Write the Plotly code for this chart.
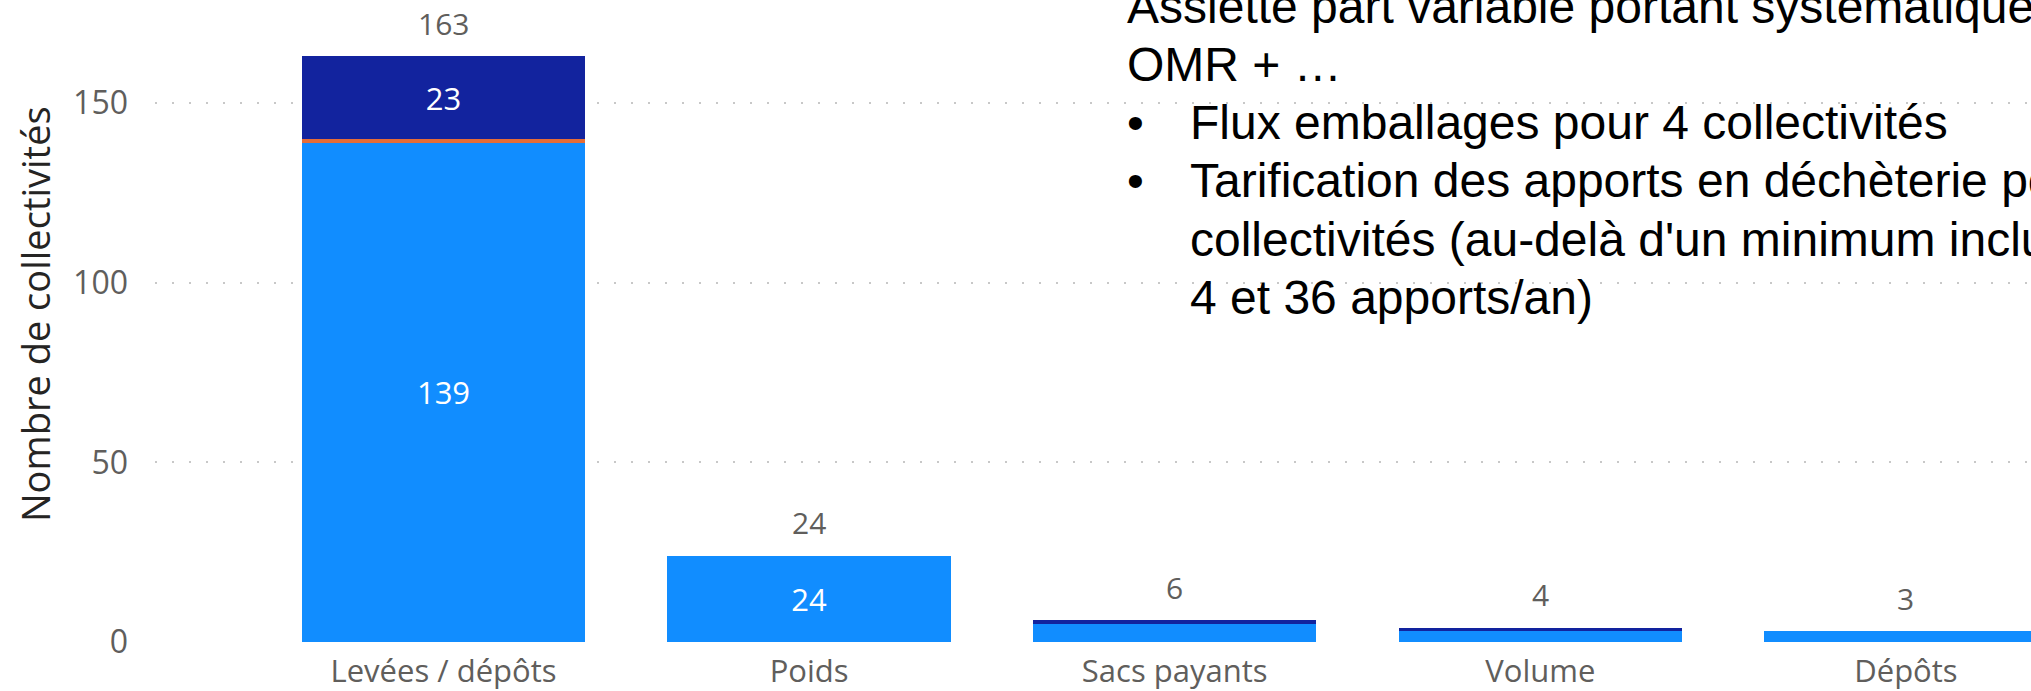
import plotly.graph_objects as go

# ---- data ----
categories = ["Levées / dépôts", "Poids", "Sacs payants", "Volume", "Dépôts"]
omr_seule = [139, 24, 5, 3, 3]      # light blue
autre = [1, 0, 0, 0, 0]              # orange
omr_plus = [23, 0, 1, 1, 0]          # navy
totals = [a + b + c for a, b, c in zip(omr_seule, autre, omr_plus)]
y_ticks = [0, 50, 100, 150]

note_lines = [
    "Assiette part variable portant systématiquement sur les",
    "OMR + …",
]
note_bullets = [
    ["Flux emballages pour 4 collectivités"],
    ["Tarification des apports en déchèterie pour",
     "collectivités (au-delà d'un minimum inclus entre",
     "4 et 36 apports/an)"],
]

# ---- styles ----
W, H = 2031, 691
ML, MR, MT, MB = 155, 0, 0, 49
PW, PH = W - ML - MR, H - MT - MB
PX_PER_UNIT = 3.593
YMAX = PH / PX_PER_UNIT
LIGHT, ORANGE, NAVY = "#118DFF", "#E66C37", "#12239E"
GRAY = "#605E5C"
SEG_FONT = "Open Sans"

fig = go.Figure()
for name, vals, col in [("OMR seule", omr_seule, LIGHT),
                        ("Autre", autre, ORANGE),
                        ("OMR + autres", omr_plus, NAVY)]:
    fig.add_trace(go.Bar(
        x=categories, y=vals, name=name, marker=dict(color=col, line=dict(width=0)),
        text=[str(v) if v else "" for v in vals], textposition="inside",
        insidetextanchor="middle",
        insidetextfont=dict(family=SEG_FONT, size=31, color="white"),
        width=0.775, showlegend=False, hoverinfo="x+y+name",
    ))

annotations = []
for c, t in zip(categories, totals):
    annotations.append(dict(x=c, y=t, xref="x", yref="y", text=str(t), showarrow=False,
                            yanchor="middle", yshift=33,
                            font=dict(family=SEG_FONT, size=30, color=GRAY)))

# y axis title
annotations.append(dict(x=0, y=(PH - 314 + MT) / PH, xref="paper", yref="paper",
                        xshift=35 - ML, text="Nombre de collectivités", textangle=-90,
                        showarrow=False, xanchor="center", yanchor="middle",
                        font=dict(family=SEG_FONT, size=38, color="#252423")))

def px_to_paper(px, py):
    return (px - ML) / PW, (MT + PH - py) / PH

NOTE_FONT = dict(family="Liberation Sans, Arial", size=48, color="black")
line_step = 58
center0 = 7
x_left, x_body = 1125, 1188
row = 0
for ln in note_lines:
    xp, yp = px_to_paper(x_left, center0 + row * line_step)
    annotations.append(dict(x=xp, y=yp, xref="paper", yref="paper", text=ln,
                            showarrow=False, xanchor="left", yanchor="middle",
                            font=NOTE_FONT))
    row += 1
for blines in note_bullets:
    xp, yp = px_to_paper(x_left, center0 + row * line_step)
    annotations.append(dict(x=xp, y=yp, xref="paper", yref="paper", text="•",
                            showarrow=False, xanchor="left", yanchor="middle",
                            font=NOTE_FONT))
    for ln in blines:
        xp, yp = px_to_paper(x_body, center0 + row * line_step)
        annotations.append(dict(x=xp, y=yp, xref="paper", yref="paper", text=ln,
                                showarrow=False, xanchor="left", yanchor="middle",
                                font=NOTE_FONT))
        row += 1

x0 = 443.5
step = 365.6
fig.update_layout(
    width=W, height=H, barmode="stack",
    margin=dict(l=ML, r=MR, t=MT, b=MB, pad=0),
    plot_bgcolor="white", paper_bgcolor="white",
    annotations=annotations,
    uniformtext=dict(minsize=28, mode="hide"),
    xaxis=dict(type="category", range=[(ML - x0) / step, (W - x0) / step],
               showgrid=False, zeroline=False, showline=False, ticks="",
               tickfont=dict(family=SEG_FONT, size=31, color=GRAY),
               ticklabelstandoff=8, automargin=False),
    yaxis=dict(range=[0, YMAX], tickvals=y_ticks, showgrid=True,
               gridcolor="#C8C8C8", gridwidth=2, griddash="2px,15px",
               zeroline=False, showline=False, ticks="",
               tickfont=dict(family=SEG_FONT, size=32, color=GRAY),
               ticklabelstandoff=26, automargin=False),
)

fig.write_html(
    "out.html",
    config={"displayModeBar": False},
    post_script="document.body.style.margin='0';document.body.style.overflow='hidden';",
)
